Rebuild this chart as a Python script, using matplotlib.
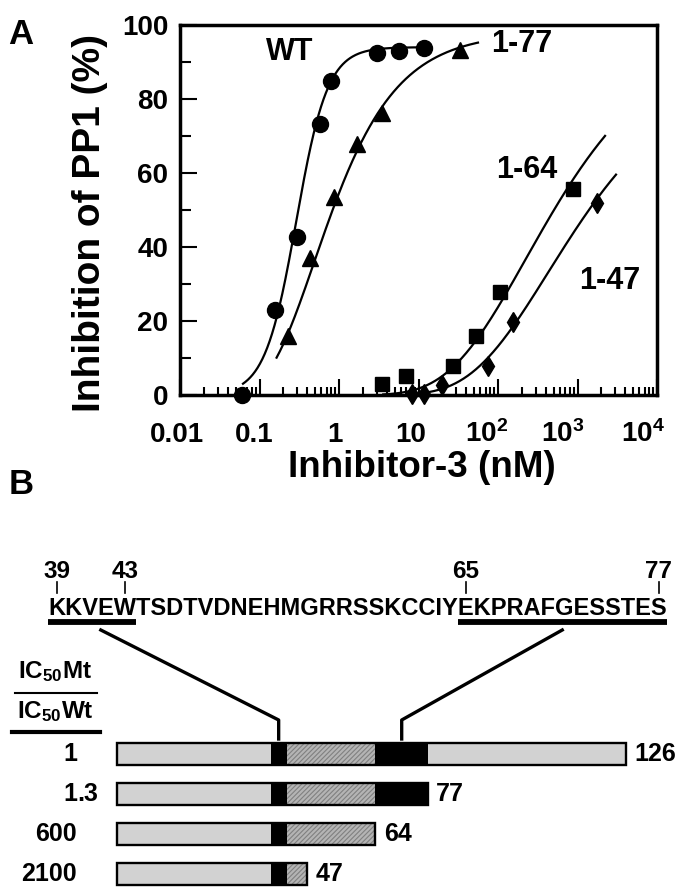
import numpy as np
import matplotlib
matplotlib.use('Agg')
import matplotlib.pyplot as plt
from matplotlib.patches import Rectangle
from matplotlib.transforms import ScaledTranslation, blended_transform_factory

plt.rcParams['font.family'] = ['Liberation Sans', 'DejaVu Sans']
plt.rcParams['font.weight'] = 'bold'
plt.rcParams['axes.labelweight'] = 'bold'
plt.rcParams['mathtext.fontset'] = 'custom'
plt.rcParams['mathtext.rm'] = 'Liberation Sans:bold'
plt.rcParams['mathtext.bf'] = 'Liberation Sans:bold'
plt.rcParams['mathtext.default'] = 'bf'
plt.rcParams['hatch.linewidth'] = 0.8

# ---- panel A data (nM, % inhibition) ----
wt_x = [0.06, 0.157, 0.30, 0.58, 0.79, 2.98, 5.7, 11.7]
wt_y = [0, 23, 42.8, 73.2, 85, 92.3, 93, 93.7]
m77_x = [0.226, 0.43, 0.87, 1.70, 3.44, 33]
m77_y = [16, 37, 53.6, 67.8, 76.1, 93.2]
m64_x = [3.44, 6.9, 27, 52.5, 106, 870]
m64_y = [3, 5.2, 7.8, 16, 27.9, 55.6]
m47_x = [8.2, 11.7, 19.5, 75.5, 155, 1740]
m47_y = [0.3, 0.3, 2.7, 7.8, 19.8, 51.8]

series_names = ['WT', '1-77', '1-64', '1-47']
series_markers = ['o', '^', 's', 'd']
# fitted curve parameters: model, top, midpoint (nM), slope, curve range
fit_model = ['hill', 'gompertz', 'gompertz', 'gompertz']
fit_top = [94, 98, 100, 90]
fit_mid = [0.29, 0.49, 224, 427]
fit_slope = [2.2, 0.75, 0.45, 0.45]
fit_lo = [0.062, 0.164, 3.6, 8]
fit_hi = [11.7, 56, 2220, 3050]

xtick_vals = [0.01, 0.1, 1, 10, 100, 1000, 10000]
xtick_labels = ['0.01', '0.1', '1', '10', '$10^{2}$', '$10^{3}$', '$10^{4}$']

# ---- panel B data ----
lengths = [126, 77, 64, 47]
ratios = ['1', '1.3', '600', '2100']
seg_bounds = [0, 38, 42, 64, 77, 126]
seg_kind = ['light', 'black', 'hatch', 'black', 'light']
sequence = 'KKVEWTSDTVDNEHMGRRSSKCCIYEKPRAFGESSTES'
seq_marks = [(0, '39'), (4, '43'), (25, '65'), (37, '77')]


def response(c, model, top, mid, n):
    if model == 'hill':
        return top / (1 + (mid / c) ** n)
    return top * np.exp(-(mid / c) ** n)


fig = plt.figure(figsize=(6.89, 8.96), dpi=100)

# ================= panel A =================
ax = fig.add_axes([180 / 689, 1 - 395 / 896, 477 / 689, 370 / 896])
xs = [wt_x, m77_x, m64_x, m47_x]
ys = [wt_y, m77_y, m64_y, m47_y]
msizes = [11.5, 11.5, 10.5, 10.5]
for i in range(4):
    c = np.logspace(np.log10(fit_lo[i]), np.log10(fit_hi[i]), 300)
    ax.plot(c, response(c, fit_model[i], fit_top[i], fit_mid[i], fit_slope[i]),
            color='black', lw=1.6)
    ax.plot(xs[i], ys[i], linestyle='none', marker=series_markers[i],
            ms=msizes[i], color='black', clip_on=False, zorder=3)

ax.set_xscale('log')
ax.set_xlim(0.01, 1e4)
ax.set_ylim(0, 100)
ax.set_yticks([0, 20, 40, 60, 80, 100])
ax.set_yticks(range(10, 100, 20), minor=True)
ax.set_xticks(xtick_vals)
ax.set_xticklabels([])
ax.xaxis.set_minor_formatter(matplotlib.ticker.NullFormatter())
for s in ax.spines.values():
    s.set_linewidth(2.5)
ax.tick_params(which='both', direction='in', width=1.5, top=False, right=False)
ax.tick_params(axis='y', which='major', length=12, pad=8.5, labelsize=20)
ax.tick_params(axis='y', which='minor', length=8)
ax.tick_params(axis='x', which='major', length=11.5)
ax.tick_params(axis='x', which='minor', length=6)

# x tick labels, baseline aligned like the original
lbl_shift = [-3, -5, -4, -8, -11, -15, -14]
btrans = blended_transform_factory(ax.transData, ax.transAxes)
for v, lab, dx in zip(xtick_vals, xtick_labels, lbl_shift):
    ax.text(v, -0.127, lab, fontsize=20, ha='center', va='baseline',
            transform=btrans + ScaledTranslation(dx / 100, 0, fig.dpi_scale_trans))

ax.set_ylabel('Inhibition of PP1 (%)', fontsize=28, va='center')
ax.yaxis.set_label_coords(-0.189, 0.466)
ax.set_xlabel('Inhibitor-3 (nM)', fontsize=26.5, va='center')
ax.xaxis.set_label_coords(0.507, -0.197)

name_pos = [(0.231, 0.927), (0.717, 0.949), (0.727, 0.608), (0.901, 0.308)]
for name, (px, py) in zip(series_names, name_pos):
    ax.text(px, py, name, transform=ax.transAxes, fontsize=22, ha='center', va='center')

fig.text(21 / 689, 1 - 35 / 896, 'A', fontsize=25, ha='center', va='center')
fig.text(21 / 689, 1 - 484 / 896, 'B', fontsize=25, ha='center', va='center')

# ================= panel B =================
px_per_res = 4.034
x_res0 = 117.3
row_px0, row_step = 754, 40
axB = fig.add_axes([0, 0, 1, (896 - 500) / 896])
axB.set_xlim(-x_res0 / px_per_res, (689 - x_res0) / px_per_res)
axB.set_ylim((896 - row_px0) / row_step, (500 - row_px0) / row_step)
axB.axis('off')


def rx(px):
    return (px - x_res0) / px_per_res


def ry(py):
    return (py - row_px0) / row_step


bar_h = 22 / row_step
colors = {'light': '#d2d2d2', 'black': 'black', 'hatch': '#b4b4b4'}
for row, (L, ratio) in enumerate(zip(lengths, ratios)):
    for k, kind in enumerate(seg_kind):
        a, b = seg_bounds[k], min(seg_bounds[k + 1], L)
        if b <= a:
            continue
        if kind == 'hatch':
            axB.add_patch(Rectangle((a, row - bar_h / 2), b - a, bar_h, facecolor=colors[kind],
                                    edgecolor='#808080', lw=0, hatch='///////'))
        else:
            axB.add_patch(Rectangle((a, row - bar_h / 2), b - a, bar_h,
                                    facecolor=colors[kind], lw=0))
    axB.add_patch(Rectangle((0, row - bar_h / 2), L, bar_h, facecolor='none',
                            edgecolor='black', lw=1.7))
    axB.annotate(str(L), (L, row), xytext=(6, 0), textcoords='offset points',
                 fontsize=18, ha='left', va='center')
    ip, _, fp = ratio.partition('.')
    axB.text(rx(77), row, ip, fontsize=18, ha='right', va='center')
    if fp:
        axB.text(rx(77), row, '.' + fp, fontsize=18, ha='left', va='center')

# IC50 ratio header
axB.text(rx(55), ry(672), '$IC_{50}Mt$', fontsize=17.5, ha='center', va='center')
axB.text(rx(55), ry(712), '$IC_{50}Wt$', fontsize=17.5, ha='center', va='center')
axB.plot([rx(15), rx(97)], [ry(693), ry(693)], color='black', lw=1.5)
axB.plot([rx(12), rx(100)], [ry(732), ry(732)], color='black', lw=3)

# sequence with residue marks
seq_fs = 17
seq_x0 = rx(48)
seq_base = ry(615)
axB.text(seq_x0, seq_base, sequence, fontsize=seq_fs, ha='left', va='baseline')
renderer = fig.canvas.get_renderer()
x0_disp = axB.transData.transform((seq_x0, 0))[0]


def letter_edge(i):
    if i == 0:
        return seq_x0
    t = axB.text(0, 0, sequence[:i], fontsize=seq_fs)
    w = t.get_window_extent(renderer).width
    t.remove()
    return axB.transData.inverted().transform((x0_disp + w, 0))[0]


for idx, num in seq_marks:
    xc = (letter_edge(idx) + letter_edge(idx + 1)) / 2
    axB.plot([xc, xc], [ry(582), ry(593)], color='black', lw=1.2)
    axB.text(xc, ry(578), num, fontsize=17.5, ha='center', va='baseline')

motifs = [(0, 4, 0.6, 40), (25, 37, 0.5, 70.5)]
for i0, i1, frac, block_mid in motifs:
    xa, xb = letter_edge(i0), letter_edge(i1 + 1)
    axB.plot([xa, xb], [ry(622), ry(622)], color='black', lw=4.2, solid_capstyle='butt')
    xs0 = xa + frac * (xb - xa)
    axB.plot([xs0, block_mid, block_mid], [ry(630), ry(720), ry(739)], color='black', lw=2.4)

fig.savefig('out.png', dpi=100)
